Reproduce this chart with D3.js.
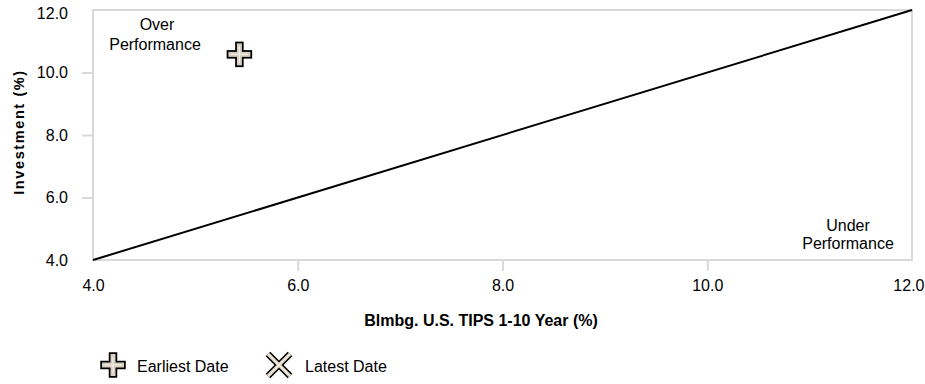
<!DOCTYPE html>
<html><head><meta charset="utf-8">
<script src="https://cdn.jsdelivr.net/npm/d3@7/dist/d3.min.js"></script>
<style>body{margin:0;background:#fff}svg{display:block;font-family:"Liberation Sans",Arial,sans-serif}</style>
</head><body>
<svg id="c" width="925" height="384"></svg>
<script>
const xTicks = [4, 6, 8, 10, 12];
const yTicks = [4, 6, 8, 10, 12];
const xDomain = [4, 12];
const yDomain = [4, 12];
const refLine = [[4, 4], [12, 12]];
const points = [{name: "Earliest Date", x: 5.43, y: 10.58, shape: "plus"}];
const legendItems = [{name: "Earliest Date", shape: "plus"}, {name: "Latest Date", shape: "cross"}];
const xTitle = "Blmbg. U.S. TIPS 1-10 Year (%)";
const yTitle = "Investment (%)";

const svg = d3.select("#c");
const L = 93, R = 912, T = 10, B = 260;
const x = d3.scaleLinear().domain(xDomain).range([L, R]);
const y = d3.scaleLinear().domain(yDomain).range([B, T]);

// frame
svg.append("rect").attr("x", L).attr("y", T).attr("width", R - L).attr("height", B - T)
  .attr("fill", "none").attr("stroke", "#d9d9d9").attr("stroke-width", 2);

const xAxis = svg.append("g").attr("transform", `translate(0,${B})`)
  .call(d3.axisBottom(x).tickValues(xTicks).tickFormat(d3.format(".1f")).tickSize(11).tickPadding(9));
const yAxis = svg.append("g").attr("transform", `translate(${L},0)`)
  .call(d3.axisLeft(y).tickValues(yTicks).tickFormat(d3.format(".1f")).tickSize(11).tickPadding(14));
[xAxis, yAxis].forEach(g => {
  g.select(".domain").remove();
  g.selectAll("line").attr("stroke", "#d9d9d9").attr("stroke-width", 2);
  g.selectAll("text").attr("fill", "#000").attr("font-size", 16).attr("font-family", "Liberation Sans, Arial, sans-serif");
});
xAxis.selectAll(".tick").filter(d => d === 4 || d === 12).select("line").remove();
yAxis.selectAll(".tick").filter(d => d === 4 || d === 12).select("line").remove();
yAxis.selectAll(".tick").filter(d => d === 12).select("text").attr("dy", "0.5em");
xAxis.selectAll(".tick").filter(d => d === 12).select("text")
  .attr("text-anchor", "end").attr("x", 924 - x(12));

// diagonal
svg.append("line").attr("x1", x(refLine[0][0])).attr("y1", y(refLine[0][1]))
  .attr("x2", x(refLine[1][0])).attr("y2", y(refLine[1][1]))
  .attr("stroke", "#000").attr("stroke-width", 2);

// annotations
const ann = svg.append("g").attr("font-size", 16).attr("text-anchor", "middle").attr("fill", "#000");
ann.append("text").attr("x", 157).attr("y", 30).text("Over");
ann.append("text").attr("x", 155).attr("y", 50).text("Performance");
ann.append("text").attr("x", 848).attr("y", 231).text("Under");
ann.append("text").attr("x", 848).attr("y", 249).text("Performance");

function marker(g, shape, cx, cy, s) {
  const h = s / 2;
  const segs = shape === "plus"
    ? [[cx - h, cy, cx + h, cy], [cx, cy - h, cx, cy + h]]
    : [[cx - h, cy - h, cx + h, cy + h], [cx - h, cy + h, cx + h, cy - h]];
  const cap = shape === "plus" ? "square" : "butt";
  [["#000", shape === "plus" ? 8.5 : 6.5, cap], ["#d8cfc0", shape === "plus" ? 5 : 3.5, cap], ["#f6f1e8", 1.1, "butt"]].forEach(([c, w, cp]) => {
    segs.forEach(sg => g.append("line").attr("x1", sg[0]).attr("y1", sg[1]).attr("x2", sg[2]).attr("y2", sg[3])
      .attr("stroke", c).attr("stroke-width", w).attr("stroke-linecap", cp));
  });
}
points.forEach(p => marker(svg.append("g"), p.shape, x(p.x), y(p.y), 17));

// axis titles
svg.append("text").attr("x", 481).attr("y", 326).attr("text-anchor", "middle")
  .attr("font-size", 16).attr("font-weight", "bold").text(xTitle);
svg.append("text").attr("transform", `translate(24,${(T + B) / 2 - 3}) rotate(-90)`).attr("text-anchor", "middle")
  .attr("font-size", 14.5).attr("font-weight", "bold").attr("letter-spacing", 1.6).text(yTitle);

// legend
const lg = svg.append("g");
const lx = [113, 279];
legendItems.forEach((d, i) => {
  marker(lg, d.shape, lx[i], 365, d.shape === "plus" ? 17 : 22);
  lg.append("text").attr("x", lx[i] + (i === 0 ? 24 : 26)).attr("y", 372).attr("font-size", 16).text(d.name);
});
</script>
</body></html>
